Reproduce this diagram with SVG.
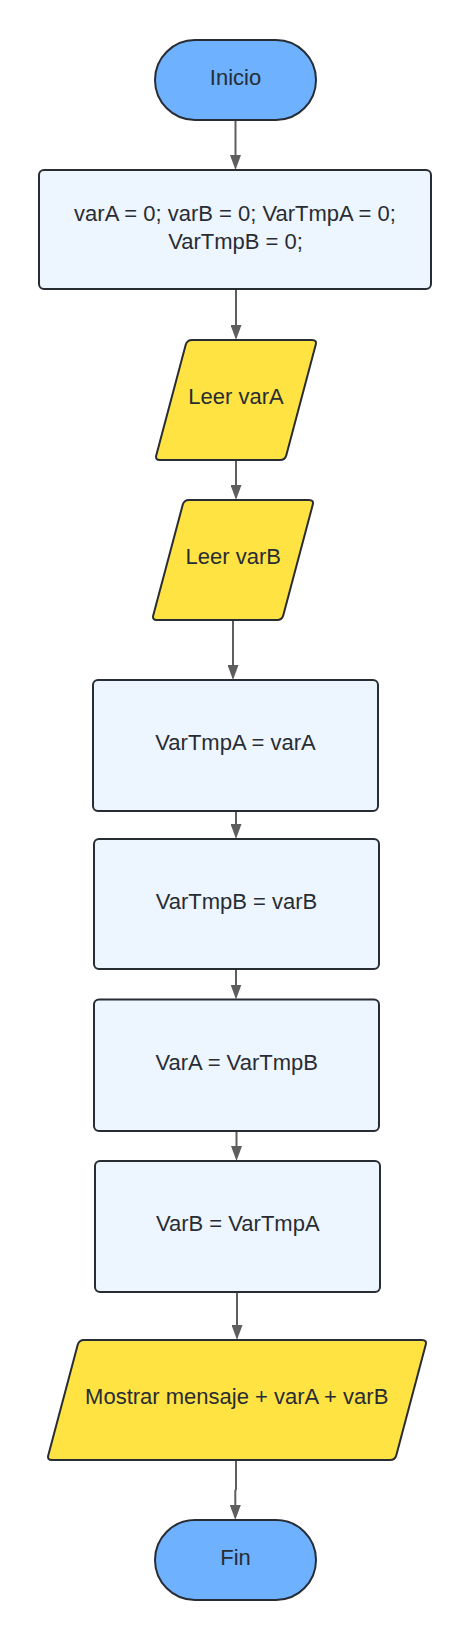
<svg xmlns="http://www.w3.org/2000/svg" width="471" height="1640" viewBox="0 0 471 1640">
<style>
.term{fill:#6DB1FF;stroke:#282C33;stroke-width:2}
.proc{fill:#EDF5FF;stroke:#282C33;stroke-width:2}
.io{fill:#FFE342;stroke:#282C33;stroke-width:2;stroke-linejoin:round}
.lbl{font-family:"Liberation Sans",Arial,sans-serif;font-size:22px;fill:#282C33;text-anchor:middle}
.edge{fill:none;stroke:#5E5E5E;stroke-width:2}
</style>
<defs>
<marker id="arrow" markerUnits="userSpaceOnUse" markerWidth="15" markerHeight="11" refX="7" refY="5.5" orient="auto">
<path d="M0,0 L15,5.5 L0,11 Z" fill="#5E5E5E"/>
</marker>
</defs>
<rect width="471" height="1640" fill="#FFFFFF"/>
<g id="connectors">
<path class="edge" d="M235.5,120 L235.5,162" marker-end="url(#arrow)"/>
<path class="edge" d="M236,289 L236,332" marker-end="url(#arrow)"/>
<path class="edge" d="M236,460 L236,492" marker-end="url(#arrow)"/>
<path class="edge" d="M233,620 L233,672" marker-end="url(#arrow)"/>
<path class="edge" d="M236,811 L236,831" marker-end="url(#arrow)"/>
<path class="edge" d="M236,969 L236,991.5" marker-end="url(#arrow)"/>
<path class="edge" d="M236.5,1131 L236.5,1153" marker-end="url(#arrow)"/>
<path class="edge" d="M237,1292 L237,1332" marker-end="url(#arrow)"/>
<path class="edge" d="M236,1460 L236,1489 L235.3,1491 L235.3,1512" marker-end="url(#arrow)"/>
</g>
<g id="inicio">
<rect class="term" x="155" y="40" width="161" height="80" rx="40" ry="40"/>
<text class="lbl" x="235.5" y="85">Inicio</text>
</g>
<g id="init">
<rect class="proc" x="39" y="170" width="392" height="119" rx="5" ry="5"/>
<text class="lbl" x="235" y="221">varA = 0; varB = 0; VarTmpA = 0;</text>
<text class="lbl" x="235.5" y="248.5">VarTmpB = 0;</text>
</g>
<g id="leerA">
<path class="io" d="M192,340 L312,340 Q317,340 315.71,344.83 L286.29,455.17 Q285,460 280,460 L160,460 Q155,460 156.29,455.17 L185.71,344.83 Q187,340 192,340 Z"/>
<text class="lbl" x="236" y="404">Leer varA</text>
</g>
<g id="leerB">
<path class="io" d="M189,500 L309,500 Q314,500 312.71,504.83 L283.29,615.17 Q282,620 277,620 L157,620 Q152,620 153.29,615.17 L182.71,504.83 Q184,500 189,500 Z"/>
<text class="lbl" x="233.3" y="564">Leer varB</text>
</g>
<g id="tmpA">
<rect class="proc" x="93" y="680" width="285" height="131" rx="5" ry="5"/>
<text class="lbl" x="235.5" y="750">VarTmpA = varA</text>
</g>
<g id="tmpB">
<rect class="proc" x="94" y="839" width="285" height="130" rx="5" ry="5"/>
<text class="lbl" x="236.5" y="909">VarTmpB = varB</text>
</g>
<g id="setA">
<rect class="proc" x="94" y="999.5" width="285" height="131.5" rx="5" ry="5"/>
<text class="lbl" x="236.7" y="1070">VarA = VarTmpB</text>
</g>
<g id="setB">
<rect class="proc" x="95" y="1161" width="285" height="131" rx="5" ry="5"/>
<text class="lbl" x="237.8" y="1231">VarB = VarTmpA</text>
</g>
<g id="mostrar">
<path class="io" d="M84,1340 L422,1340 Q427,1340 425.71,1344.83 L396.29,1455.17 Q395,1460 390,1460 L52,1460 Q47,1460 48.29,1455.17 L77.71,1344.83 Q79,1340 84,1340 Z"/>
<text class="lbl" x="236.7" y="1404">Mostrar mensaje + varA + varB</text>
</g>
<g id="fin">
<rect class="term" x="155" y="1520" width="161" height="80" rx="40" ry="40"/>
<text class="lbl" x="235.5" y="1565">Fin</text>
</g>
</svg>
